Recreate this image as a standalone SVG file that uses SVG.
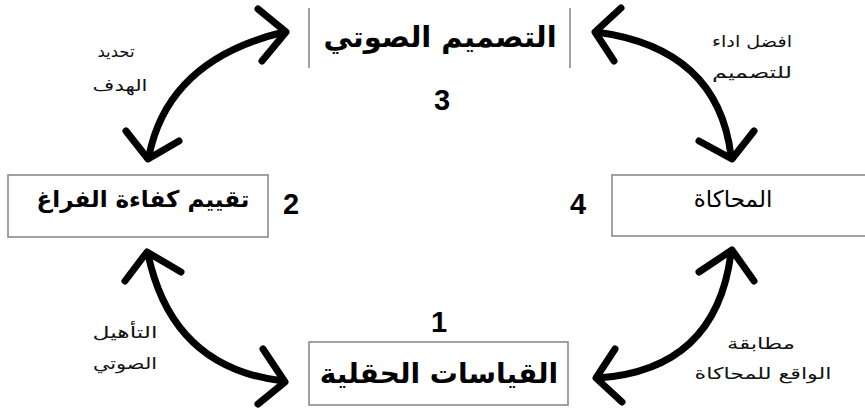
<svg xmlns="http://www.w3.org/2000/svg" width="865" height="413" viewBox="0 0 865 413">
  <style>
    .box { fill: #fff; stroke: #8a8a8a; stroke-width: 1.6; }
    .side { stroke: #8a8a8a; stroke-width: 1.6; }
    .title { font-family: "DejaVu Sans", sans-serif; font-weight: bold; fill: #000; text-anchor: middle; }
    .plain { font-weight: normal; }
    .num { font-family: "Liberation Sans", Arial, sans-serif; font-size: 29px; font-weight: bold; fill: #000; text-anchor: middle; }
    .lbl { font-family: "DejaVu Sans", sans-serif; font-size: 16px; fill: #111; text-anchor: middle; }
    .arc { fill: none; stroke: #000; stroke-width: 7; stroke-linecap: round; stroke-linejoin: round; }
  </style>

  <!-- cycle connectors: thick double-headed curved arrows -->
  <g id="connectors">
    <g id="c-design-eval">
      <path class="arc" d="M149,156 Q168,60 284,32"/>
      <polyline class="arc" points="258,9 286,32 262,61"/>
      <polyline class="arc" points="126,131 148,159 179,141"/>
    </g>
    <g id="c-design-sim">
      <path class="arc" d="M596,32 Q718,48 731,156"/>
      <polyline class="arc" points="621,8 595,32 614,61"/>
      <polyline class="arc" points="699,141 732,159 754,131"/>
    </g>
    <g id="c-eval-field">
      <path class="arc" d="M148,254 Q172,368 283,381"/>
      <polyline class="arc" points="125,281 147,252 181,272"/>
      <polyline class="arc" points="263,349 285,382 258,404"/>
    </g>
    <g id="c-sim-field">
      <path class="arc" d="M731,253 Q716,370 598,378"/>
      <polyline class="arc" points="699,272 732,250 754,281"/>
      <polyline class="arc" points="615,349 596,378 622,402"/>
    </g>
  </g>

  <!-- 3: acoustic design -->
  <g id="node-design">
    <line class="side" x1="309" y1="8" x2="309" y2="68"/>
    <line class="side" x1="570" y1="8" x2="570" y2="68"/>
    <text class="title" x="440" y="47" font-size="29">التصميم الصوتي</text>
    <text class="num" x="442" y="110">3</text>
  </g>

  <!-- 2: space efficiency assessment -->
  <g id="node-eval">
    <rect class="box" x="8" y="175" width="260" height="62"/>
    <text class="title" x="143" y="207" font-size="23">تقييم كفاءة الفراغ</text>
    <text class="num" x="291" y="214">2</text>
  </g>

  <!-- 4: simulation -->
  <g id="node-sim">
    <rect class="box" x="612" y="175" width="256" height="61"/>
    <text class="title plain" x="733" y="207" font-size="23">المحاكاة</text>
    <text class="num" x="578" y="214">4</text>
  </g>

  <!-- 1: field measurements -->
  <g id="node-field">
    <rect class="box" x="309" y="342" width="259" height="63"/>
    <text class="title" x="439" y="383" font-size="28">القياسات الحقلية</text>
    <text class="num" x="439" y="332">1</text>
  </g>

  <!-- connector labels, stretched to the wide label face -->
  <g id="labels">
    <text class="lbl" x="116" y="57" textLength="37" lengthAdjust="spacingAndGlyphs">تحديد</text>
    <text class="lbl" x="120" y="91" textLength="55" lengthAdjust="spacingAndGlyphs">الهدف</text>
    <text class="lbl" x="752" y="47" textLength="80" lengthAdjust="spacingAndGlyphs">افضل اداء</text>
    <text class="lbl" x="752" y="78" textLength="80" lengthAdjust="spacingAndGlyphs">للتصميم</text>
    <text class="lbl" x="125" y="338" textLength="65" lengthAdjust="spacingAndGlyphs">التأهيل</text>
    <text class="lbl" x="125" y="369" textLength="64" lengthAdjust="spacingAndGlyphs">الصوتي</text>
    <text class="lbl" x="761" y="349" textLength="68" lengthAdjust="spacingAndGlyphs">مطابقة</text>
    <text class="lbl" x="763" y="379" textLength="137" lengthAdjust="spacingAndGlyphs">الواقع للمحاكاة</text>
  </g>
</svg>
